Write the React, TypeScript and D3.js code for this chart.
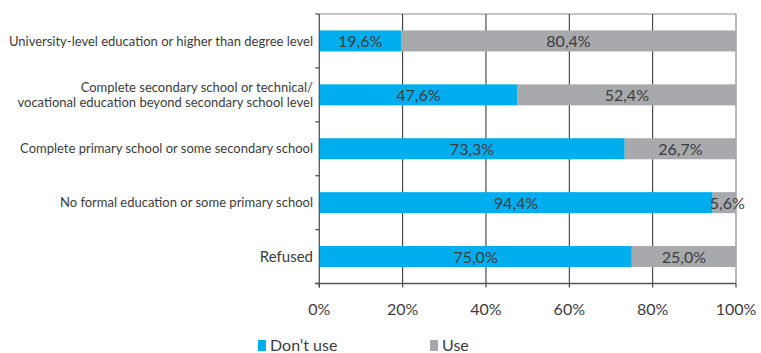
import React from "react";
import * as d3 from "d3";

const categories: string[][] = [
  ["University-level education or higher than degree level"],
  ["Complete secondary school or technical/", "vocational education beyond secondary school level"],
  ["Complete primary school or some secondary school"],
  ["No formal education or some primary school"],
  ["Refused"],
];
const dontUse = [19.6, 47.6, 73.3, 94.4, 75.0];
const useVals = [80.4, 52.4, 26.7, 5.6, 25.0];
const xTicks = [0, 20, 40, 60, 80, 100];
const seriesNames = ["Don\u2019t use", "Use"];
const colors = ["#00AEEF", "#A7A9AC"];

const W = 761, H = 353;
const left = 319.3, right = 736, top = 14, bottom = 283.5;
const FONT = "Lato, 'Open Sans', sans-serif";
const TXT = "#3c3c3c";

const fmt = (v: number) => v.toFixed(1).replace(".", ",") + "%";

export default function App() {
  const x = d3.scaleLinear().domain([0, 100]).range([left, right]);
  const y = d3
    .scaleBand<number>()
    .domain(d3.range(categories.length))
    .range([top, bottom])
    .paddingInner(0.61)
    .paddingOuter(0.305);
  const bandStep = (bottom - top) / categories.length;
  const boundaries = d3.range(categories.length + 1).map((i) => top + i * bandStep);

  return (
    <svg width={W} height={H} style={{ position: "absolute", left: 0, top: 0 }} fontFamily={FONT}>
      <rect width={W} height={H} fill="#fff" />
      <line x1={left} x2={right} y1={top} y2={top} stroke="#8a8a8a" strokeWidth={1.2} />
      <line x1={right} x2={right} y1={top} y2={bottom} stroke="#8a8a8a" strokeWidth={1.2} />
      {xTicks.slice(1, -1).map((t) => (
        <line key={t} x1={x(t)} x2={x(t)} y1={top} y2={bottom} stroke="#2a2a2a" strokeWidth={1} />
      ))}
      {categories.map((_, i) => {
        const y0 = y(i)!;
        const h = y.bandwidth();
        const segs = [
          { x0: 0, x1: dontUse[i], v: dontUse[i], c: colors[0] },
          { x0: dontUse[i], x1: dontUse[i] + useVals[i], v: useVals[i], c: colors[1] },
        ];
        return (
          <g key={i}>
            {segs.map((s, j) => (
              <rect key={j} x={x(s.x0)} y={y0} width={x(s.x1) - x(s.x0)} height={h} fill={s.c} />
            ))}
            {segs.map((s, j) => (
              <text
                key={"t" + j}
                x={(x(s.x0) + x(s.x1)) / 2 + (j === 1 && s.v < 10 ? 3 : 0)}
                y={y0 + h / 2 + 6}
                textAnchor="middle"
                fontSize={16}
                fill={TXT}
              >
                {fmt(s.v)}
              </text>
            ))}
          </g>
        );
      })}
      <line x1={left} x2={left} y1={top} y2={bottom + 4} stroke="#555" strokeWidth={1.3} />
      {boundaries.map((b, i) => (
        <line key={i} x1={left - 4} x2={left} y1={b} y2={b} stroke="#555" strokeWidth={1.3} />
      ))}
      <line x1={left - 4} x2={right} y1={bottom} y2={bottom} stroke="#555" strokeWidth={1.3} />
      {xTicks.map((t) => (
        <g key={t}>
          <line x1={x(t)} x2={x(t)} y1={bottom} y2={bottom + 4} stroke="#555" strokeWidth={1.3} />
          <text x={x(t)} y={bottom + 31} textAnchor="middle" fontSize={16} fill={TXT}>
            {t + "%"}
          </text>
        </g>
      ))}
      {categories.map((lines, i) => {
        const cy = y(i)! + y.bandwidth() / 2;
        const fs = i === 4 ? 15 : 13;
        return (
          <text key={i} textAnchor="end" fontSize={fs} fill={TXT}>
            {lines.map((ln, k) => (
              <tspan key={k} x={313} y={cy + (k - (lines.length - 1) / 2) * 15 + fs * 0.35}>
                {ln}
              </tspan>
            ))}
          </text>
        );
      })}
      {seriesNames.map((n, i) => {
        const lx = i === 0 ? 258 : 430;
        return (
          <g key={n}>
            <rect x={lx} y={340} width={8} height={11} fill={colors[i]} />
            <text x={lx + 12} y={351} fontSize={16} fill={TXT}>
              {n}
            </text>
          </g>
        );
      })}
    </svg>
  );
}
